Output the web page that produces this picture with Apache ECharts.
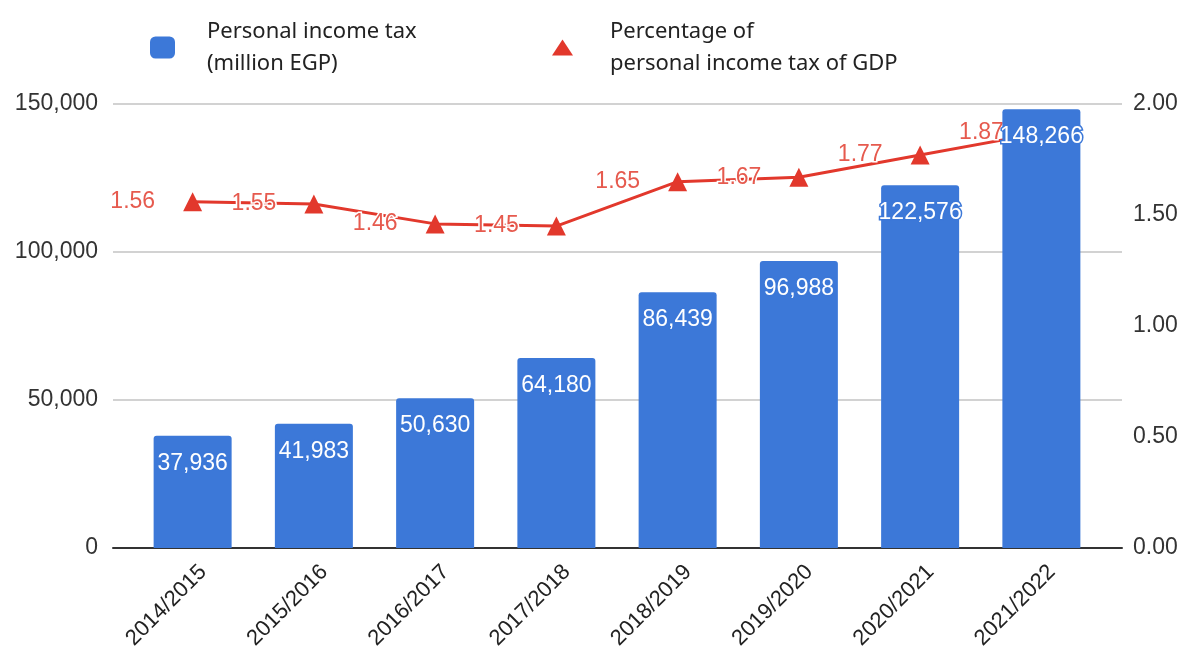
<!DOCTYPE html>
<html>
<head>
<meta charset="utf-8">
<script src="https://cdn.jsdelivr.net/npm/echarts@6/dist/echarts.min.js"></script>
<style>
  html, body { margin: 0; padding: 0; background: #fff; }
  #chart { width: 1187px; height: 658px; }
</style>
</head>
<body>
<div id="chart"></div>
<script>
// Fiscal years and values
const fiscalYears = ['2014/2015', '2015/2016', '2016/2017', '2017/2018', '2018/2019', '2019/2020', '2020/2021', '2021/2022'];
const incomeTaxMillionEGP = [37936, 41983, 50630, 64180, 86439, 96988, 122576, 148266];
const taxShareOfGDP = [1.56, 1.55, 1.46, 1.45, 1.65, 1.67, 1.77, 1.87];

const taxSeriesName = 'Personal income tax\n(million EGP)';
const shareSeriesName = 'Percentage of\npersonal income tax of GDP';

const numFont = 'Liberation Sans';
const textFont = 'Noto Sans';
const barBlue = '#3c78d8';
const lineRed = '#e2382c';

const chart = echarts.init(document.getElementById('chart'), null, { renderer: 'canvas' });

chart.setOption({
  animation: false,
  backgroundColor: '#fff',
  legend: [
    {
      data: [{ name: taxSeriesName, icon: 'roundRect' }],
      left: 150, top: 12, padding: 0,
      itemWidth: 25, itemHeight: 22,
      selectedMode: false,
      textStyle: { fontFamily: textFont, fontSize: 22, lineHeight: 32, color: '#222', padding: [0, 0, 7, 27] }
    },
    {
      data: [{ name: shareSeriesName, icon: 'triangle' }],
      left: 552, top: 12, padding: 0,
      itemWidth: 21, itemHeight: 16,
      selectedMode: false,
      textStyle: { fontFamily: textFont, fontSize: 22, lineHeight: 32, color: '#222', padding: [0, 0, 7, 32] }
    }
  ],
  grid: [
    // frame holding gridlines, baseline and both value scales
    { left: 113, right: 65, top: 104, bottom: 110 },
    // inner band holding the categories
    { left: 132, right: 85, top: 104, bottom: 110 }
  ],
  xAxis: [
    {
      gridIndex: 0, type: 'value', min: 0, max: 1,
      axisLine: { show: true, onZero: false, lineStyle: { color: '#333', width: 2 } },
      axisTick: { show: false }, axisLabel: { show: false }, splitLine: { show: false }
    },
    {
      gridIndex: 1, type: 'category', data: fiscalYears,
      axisLine: { show: false }, axisTick: { show: false },
      axisLabel: {
        rotate: 45, interval: 0, margin: 10,
        verticalAlign: 'top', lineHeight: 30,
        fontFamily: numFont, fontSize: 22, color: '#222'
      }
    }
  ],
  yAxis: [
    {
      gridIndex: 0, type: 'value', min: 0, max: 150000, interval: 50000,
      axisLine: { show: false }, axisTick: { show: false },
      axisLabel: { formatter: v => v.toLocaleString('en-US'), fontFamily: numFont, fontSize: 23, color: '#333', margin: 15 },
      splitLine: { lineStyle: { color: '#d2d2d2', width: 2 } }
    },
    {
      gridIndex: 0, type: 'value', position: 'right', min: 0, max: 2, interval: 0.5,
      axisLine: { show: false }, axisTick: { show: false },
      axisLabel: { formatter: v => v.toFixed(2), fontFamily: numFont, fontSize: 23, color: '#333', margin: 11 },
      splitLine: { show: false }
    },
    { gridIndex: 1, type: 'value', min: 0, max: 150000, show: false },
    { gridIndex: 1, type: 'value', min: 0, max: 2, show: false }
  ],
  series: [
    {
      name: shareSeriesName,
      type: 'line',
      xAxisIndex: 1, yAxisIndex: 3,
      z: 1,
      data: taxShareOfGDP,
      symbol: 'triangle', symbolSize: 19,
      lineStyle: { color: lineRed, width: 3 },
      itemStyle: { color: lineRed },
      label: {
        show: true, position: 'left', distance: 28,
        formatter: p => p.value.toFixed(2),
        fontFamily: numFont, fontSize: 23, color: '#e65a4e',
        textBorderColor: '#fff', textBorderWidth: 3
      }
    },
    {
      name: taxSeriesName,
      type: 'bar',
      xAxisIndex: 1, yAxisIndex: 2,
      z: 2,
      data: incomeTaxMillionEGP,
      barWidth: 78,
      itemStyle: { color: barBlue, borderRadius: [3, 3, 0, 0] },
      label: {
        show: true, position: 'insideTop', distance: 16,
        formatter: p => p.value.toLocaleString('en-US'),
        fontFamily: numFont, fontSize: 23, color: '#fff',
        textBorderColor: barBlue, textBorderWidth: 3
      }
    }
  ]
});
</script>
</body>
</html>
